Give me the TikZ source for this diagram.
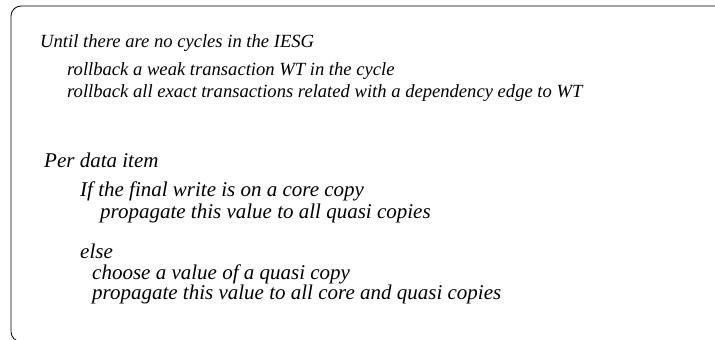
\documentclass[tikz,border=0pt]{standalone}
\usepackage{fontspec}
\setmainfont{Liberation Serif}
\usepackage{tikz}
\usetikzlibrary{positioning}

\begin{document}
\begin{tikzpicture}[
  x=1pt, y=-1pt,
  line/.style={anchor=base west, inner sep=0pt, font=\fontsize{18.6}{22}\selectfont\itshape},
  bigline/.style={line, font=\fontsize{21}{25}\selectfont\itshape},
  frame/.style={draw, line width=0.8pt, rounded corners=10pt}
]
  \useasboundingbox (0,0) rectangle (715,340);
  \begin{scope}
    \clip (0,0) rectangle (715,340);
    \draw[frame] (11,6) rectangle (740,341.6);
  \end{scope}
  \node[line] (c1) at (40,47) {Until there are no cycles in the IESG};
  \node[line] (c2) at (67,75) {rollback a weak transaction WT in the cycle};
  \node[line] (c3) at (67,97) {rollback all exact transactions related with a dependency edge to WT};
  \node[bigline] (d1) at (44,167) {Per data item};
  \node[bigline] (d2) at (80,196) {If the final write is on a core copy};
  \node[bigline] (d3) at (100,218) {propagate this value to all quasi copies};
  \node[bigline] (d4) at (80,258) {else};
  \node[bigline] (d5) at (92,279) {choose a value of a quasi copy};
  \node[bigline] (d6) at (92,299) {propagate this value to all core and quasi copies};
\end{tikzpicture}
\end{document}
